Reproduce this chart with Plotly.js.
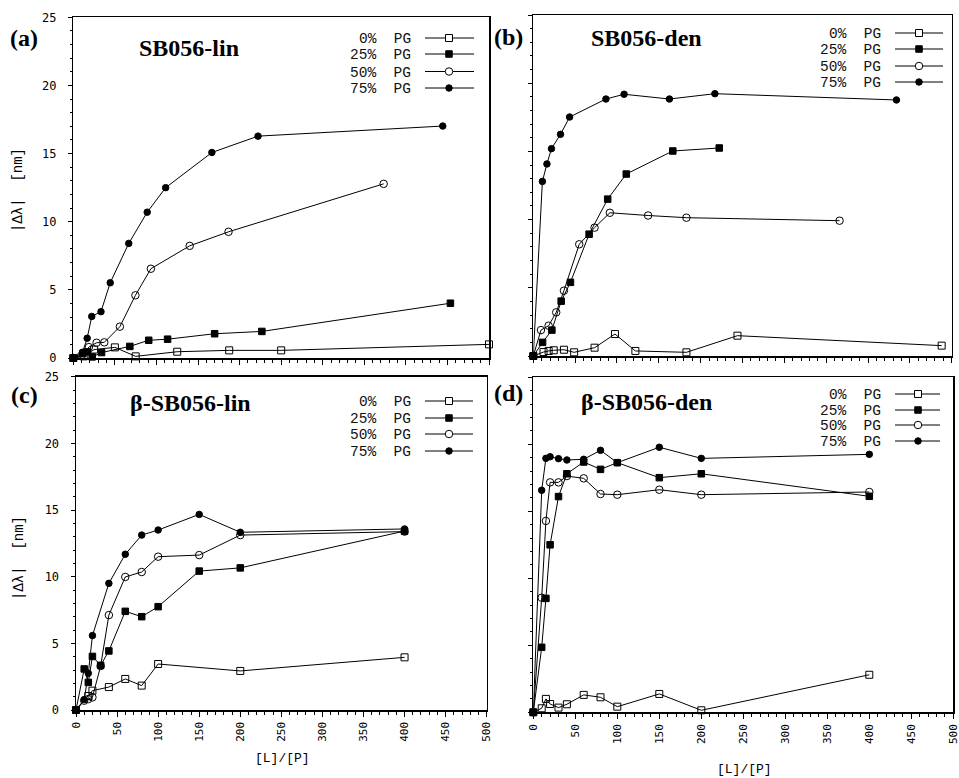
<!DOCTYPE html>
<html>
<head>
<meta charset="utf-8">
<script src="https://cdn.plot.ly/plotly-3.0.1.min.js"></script>
<style>
  html, body { margin: 0; padding: 0; background: #fff; }
  #chart { width: 959px; height: 778px; }
</style>
</head>
<body>
<div id="chart"></div>
<script>
// ---- Shift |Δλ| (nm) versus lipid/peptide ratio [L]/[P] ----

// (a) SB056-lin
const a_x0  = [0, 12.5, 25, 50, 75, 125, 187.5, 250, 500];
const a_y0  = [0, 0.12, 0.62, 0.78, 0.12, 0.46, 0.56, 0.56, 1.0];
const a_x25 = [0, 11.3, 17, 22.7, 34, 68, 90.7, 113.4, 170, 226.8, 453.6];
const a_y25 = [0, 0.32, 0.45, 0.08, 0.4, 0.85, 1.3, 1.38, 1.78, 1.95, 4.02];
const a_x50 = [0, 9.3, 18.7, 28, 37.3, 56, 74.7, 93.3, 140, 186.7, 373.3];
const a_y50 = [0, 0.15, 0.8, 1.12, 1.15, 2.3, 4.6, 6.55, 8.23, 9.26, 12.78];
const a_x75 = [0, 11.1, 16.7, 22.2, 33.3, 44.4, 66.7, 88.9, 111.1, 166.7, 222.2, 444.4];
const a_y75 = [0, 0.42, 1.45, 3.05, 3.4, 5.52, 8.41, 10.7, 12.5, 15.08, 16.28, 17.02];

// (b) SB056-den
const b_x0  = [0, 12.2, 18.3, 24.4, 36.6, 48.8, 73.2, 97.6, 122, 183, 244, 488];
const b_y0  = [0, 0.29, 0.37, 0.42, 0.46, 0.27, 0.61, 1.61, 0.37, 0.27, 1.49, 0.76];
const b_x25 = [0, 11.1, 22.2, 33.3, 44.4, 66.7, 88.9, 111.1, 166.7, 222.2];
const b_y25 = [0, 1.0, 1.9, 4.02, 5.4, 8.93, 11.5, 13.34, 15.03, 15.25];
const b_x50 = [0, 9.15, 18.3, 27.4, 36.6, 54.9, 73.2, 91.5, 137.2, 183, 366];
const b_y50 = [0, 1.9, 2.22, 3.2, 4.79, 8.19, 9.41, 10.5, 10.3, 10.14, 9.92];
const b_x75 = [0, 10.85, 16.3, 21.7, 32.5, 43.4, 86.8, 108.5, 162.7, 217, 434];
const b_y75 = [0, 12.8, 14.08, 15.2, 16.25, 17.52, 18.84, 19.19, 18.84, 19.23, 18.77];

// (c) β-SB056-lin
const c_x0  = [0, 15, 20, 40, 60, 80, 100, 200, 400];
const c_y0  = [0, 1.05, 1.45, 1.72, 2.33, 1.83, 3.45, 2.93, 3.95];
const c_x25 = [0, 10, 15, 20, 30, 40, 60, 80, 100, 150, 200, 400];
const c_y25 = [0, 3.08, 2.07, 4.02, 3.35, 4.43, 7.4, 7.0, 7.75, 10.42, 10.66, 13.42];
const c_x50 = [0, 10, 15, 20, 30, 40, 60, 80, 100, 150, 200, 400];
const c_y50 = [0, 0.7, 0.82, 0.95, 3.3, 7.12, 9.98, 10.35, 11.5, 11.62, 13.12, 13.38];
const c_x75 = [0, 10, 15, 20, 40, 60, 80, 100, 150, 200, 400];
const c_y75 = [0, 0.78, 2.75, 5.58, 9.5, 11.68, 13.12, 13.5, 14.67, 13.33, 13.58];

// (d) β-SB056-den
const d_x   = [0, 10, 15, 20, 30, 40, 60, 80, 100, 150, 200, 400];
const d_y0  = [0, 0.3, 1.0, 0.62, 0.35, 0.6, 1.3, 1.12, 0.42, 1.37, 0.15, 2.8];
const d_y25 = [0, 4.85, 8.5, 12.5, 16.1, 17.8, 18.68, 18.13, 18.63, 17.51, 17.8, 16.12];
const d_y50 = [0, 8.55, 14.28, 17.16, 17.16, 17.63, 17.46, 16.29, 16.24, 16.61, 16.24, 16.44];
const d_y75 = [0, 16.57, 18.95, 19.07, 18.93, 18.83, 18.88, 19.55, 18.63, 19.78, 18.95, 19.25];

const seriesNames = ['0%  PG', '25%  PG', '50%  PG', '75%  PG'];
const panelLetters = ['(a)', '(b)', '(c)', '(d)'];
const panelTitles = ['SB056-lin', 'SB056-den', 'β-SB056-lin', 'β-SB056-den'];
const yTicks = [0, 5, 10, 15, 20, 25];
const xTicks = [0, 50, 100, 150, 200, 250, 300, 350, 400, 450, 500];
const xTitle = '[L]/[P]';
const yTitle = '|Δλ|  [nm]';

// ---- styling ----
const W = 959, H = 778;
const fx = p => p / W;
const fy = p => 1 - p / H;

const markerStyles = [
  { symbol: 'square-open', size: 7, filled: false, shape: 'rect' },
  { symbol: 'square', size: 6.5, filled: true, shape: 'rect' },
  { symbol: 'circle-open', size: 7.5, filled: false, shape: 'circle' },
  { symbol: 'circle', size: 6.5, filled: true, shape: 'circle' }
];

// plot-area boxes in pixels: [left, right, top, bottom]
const boxes = [
  [73.3, 489.0, 17.3, 358.0],
  [533.3, 951.7, 15.0, 356.0],
  [76.0, 486.7, 376.7, 710.0],
  [533.3, 953.3, 377.3, 712.3]
];

const panelData = [
  { xs: [a_x0, a_x25, a_x50, a_x75], ys: [a_y0, a_y25, a_y50, a_y75] },
  { xs: [b_x0, b_x25, b_x50, b_x75], ys: [b_y0, b_y25, b_y50, b_y75] },
  { xs: [c_x0, c_x25, c_x50, c_x75], ys: [c_y0, c_y25, c_y50, c_y75] },
  { xs: [d_x, d_x, d_x, d_x], ys: [d_y0, d_y25, d_y50, d_y75] }
];

const traces = [];
panelData.forEach((p, i) => {
  const xa = i === 0 ? 'x' : 'x' + (i + 1);
  const ya = i === 0 ? 'y' : 'y' + (i + 1);
  p.xs.forEach((xv, s) => {
    const m = markerStyles[s];
    traces.push({
      type: 'scatter', mode: 'lines+markers',
      x: xv, y: p.ys[s], xaxis: xa, yaxis: ya,
      name: seriesNames[s], showlegend: false, cliponaxis: false,
      line: { color: '#000', width: 1 },
      marker: { symbol: m.symbol, size: m.size, color: '#000',
                line: { color: '#000', width: 1 } },
      hoverinfo: 'skip'
    });
  });
});

const tickFont = { family: 'DejaVu Sans Mono, monospace', size: 12, color: '#000' };

const layout = {
  width: W, height: H,
  margin: { l: 0, r: 0, t: 0, b: 0 },
  paper_bgcolor: '#fff', plot_bgcolor: '#fff',
  showlegend: false,
  annotations: [], shapes: []
};

boxes.forEach((b, i) => {
  const sfx = i === 0 ? '' : String(i + 1);
  layout['xaxis' + sfx] = {
    domain: [fx(b[0]), fx(b[1])], anchor: 'y' + sfx,
    range: [0, 500], tickvals: xTicks, ticktext: xTicks.map(String),
    showticklabels: i >= 2, tickangle: -90, ticklabeloverflow: 'allow',
    ticks: 'outside', ticklen: 5, tickwidth: 1, tickcolor: '#000',
    minor: { dtick: 10, tick0: 0, ticks: 'outside', ticklen: 3, tickwidth: 1, tickcolor: '#000' },
    showline: true, mirror: true, linecolor: '#000', linewidth: 1.5,
    showgrid: false, zeroline: false, tickfont: Object.assign({}, tickFont, { size: 11 }),
    ticklabelstandoff: 1, fixedrange: true
  };
  layout['yaxis' + sfx] = {
    domain: [fy(b[3]), fy(b[2])], anchor: 'x' + sfx,
    range: [0, 25], tickvals: yTicks, ticktext: yTicks.map(String),
    showticklabels: i === 0 || i === 2, ticklabeloverflow: 'allow',
    ticks: 'outside', ticklen: 4, tickwidth: 1, tickcolor: '#000',
    minor: { dtick: 1, tick0: 0, ticks: 'outside', ticklen: 2, tickwidth: 1, tickcolor: '#000' },
    showline: true, mirror: true, linecolor: '#000', linewidth: 1.5,
    showgrid: false, zeroline: false, tickfont: tickFont,
    ticklabelstandoff: 9, fixedrange: true
  };
});

// panel letters and names
const letterPos = [[24, 38], [508, 37], [24, 395], [508, 393]];
const titlePos = [[189, 48], [646, 38], [190, 403], [646, 402]];
panelLetters.forEach((t, i) => {
  layout.annotations.push({
    xref: 'paper', yref: 'paper', x: fx(letterPos[i][0]), y: fy(letterPos[i][1]),
    xanchor: 'center', yanchor: 'middle', showarrow: false, text: '<b>' + t + '</b>',
    font: { family: 'Liberation Serif, Times New Roman, serif', size: 24, color: '#000' }
  });
  layout.annotations.push({
    xref: 'paper', yref: 'paper', x: fx(titlePos[i][0]), y: fy(titlePos[i][1]),
    xanchor: 'center', yanchor: 'middle', showarrow: false, text: '<b>' + panelTitles[i] + '</b>',
    font: { family: 'Liberation Serif, Times New Roman, serif', size: 24, color: '#000' }
  });
});

// in-panel keys: text on the left, line sample with marker on the right
const keys = [
  { textRight: 413, lineL: 425, lineR: 474, mark: 449, rows: [38, 54, 71.5, 88] },
  { textRight: 883, lineL: 895, lineR: 943, mark: 919, rows: [33, 49, 66, 82] },
  { textRight: 413, lineL: 425, lineR: 473, mark: 449, rows: [401, 418, 434, 451] },
  { textRight: 883, lineL: 895, lineR: 940, mark: 918, rows: [394, 410, 425, 441] }
];
keys.forEach(k => {
  k.rows.forEach((ry, s) => {
    layout.annotations.push({
      xref: 'paper', yref: 'paper', x: fx(k.textRight), y: fy(ry + 1),
      xanchor: 'right', yanchor: 'middle', showarrow: false, text: seriesNames[s],
      font: { family: 'Liberation Mono, Courier New, monospace', size: 14.5, color: '#111' }
    });
    layout.shapes.push({
      type: 'line', xref: 'paper', yref: 'paper',
      x0: fx(k.lineL), x1: fx(k.lineR), y0: fy(ry), y1: fy(ry),
      line: { color: '#000', width: 1 }
    });
    const m = markerStyles[s];
    const h = m.size / 2;
    layout.shapes.push({
      type: m.shape, xref: 'paper', yref: 'paper',
      xsizemode: 'pixel', ysizemode: 'pixel',
      xanchor: fx(k.mark), yanchor: fy(ry),
      x0: -h, x1: h, y0: -h, y1: h,
      line: { color: '#000', width: 1 },
      fillcolor: m.filled ? '#000' : '#fff'
    });
  });
});

// axis titles
const axisFont = { family: 'Liberation Mono, Courier New, monospace', size: 14, color: '#000' };
[[18, 190], [19, 558]].forEach(p => {
  layout.annotations.push({
    xref: 'paper', yref: 'paper', x: fx(p[0]), y: fy(p[1]),
    xanchor: 'center', yanchor: 'middle', showarrow: false, textangle: -90,
    text: yTitle, font: axisFont
  });
});
[[282, 758], [744, 769]].forEach(p => {
  layout.annotations.push({
    xref: 'paper', yref: 'paper', x: fx(p[0]), y: fy(p[1]),
    xanchor: 'center', yanchor: 'middle', showarrow: false,
    text: xTitle, font: Object.assign({}, axisFont, { size: 13 })
  });
});

Plotly.newPlot('chart', traces, layout, { displayModeBar: false, staticPlot: true });
</script>
</body>
</html>
